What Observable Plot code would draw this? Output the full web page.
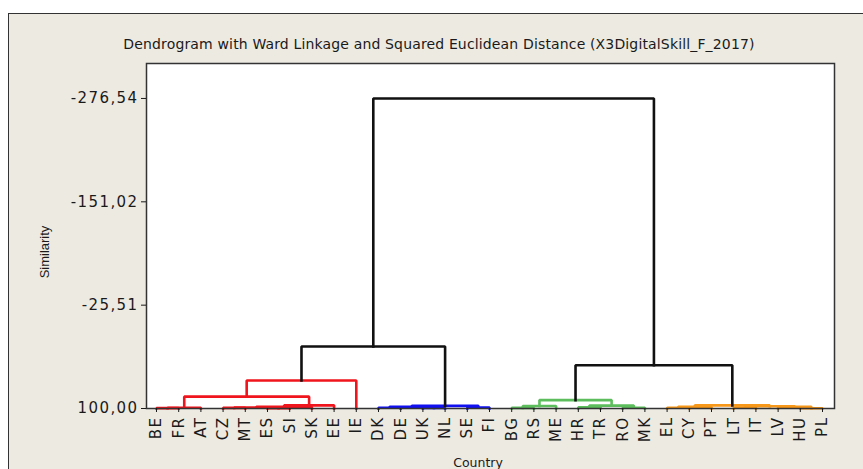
<!DOCTYPE html>
<html><head><meta charset="utf-8">
<script src="https://cdn.jsdelivr.net/npm/d3@7"></script>
<script src="https://cdn.jsdelivr.net/npm/@observablehq/plot@0.6"></script>
<style>
html,body{margin:0;padding:0;background:#fff;width:863px;height:469px;overflow:hidden;}
#panel{position:absolute;left:8px;top:13px;width:900px;height:500px;background:#EDEAE2;border:1.5px solid #333;box-sizing:border-box;}
#chart{position:absolute;left:0;top:0;}
.t{position:absolute;font-family:"DejaVu Sans",sans-serif;color:#1a1a1a;white-space:nowrap;}
#chart g[aria-label="x-axis tick label"] text{letter-spacing:1.5px;}
#chart g[aria-label="y-axis tick label"] text{letter-spacing:1.4px;}
</style></head><body>
<div id="panel"></div>
<div id="chart"></div>
<div class="t" id="title" style="left:0;width:878px;top:36px;text-align:center;font-size:14px;letter-spacing:0.15px;">Dendrogram with Ward Linkage and Squared Euclidean Distance (X3DigitalSkill_F_2017)</div>
<div class="t" id="ylab" style="left:44px;top:252px;transform:translate(-50%,-50%) rotate(-90deg);font-family:'Liberation Sans Narrow','Liberation Sans',sans-serif;font-size:13px;">Similarity</div>
<div class="t" id="xlab" style="left:478px;top:455px;transform:translateX(-50%);font-size:12.5px;">Country</div>
<script>
// Leaves in dendrogram order
const countries = ["BE","FR","AT","CZ","MT","ES","SI","SK","EE","IE",
  "DK","DE","UK","NL","SE","FI",
  "BG","RS","ME","HR","TR","RO","MK",
  "EL","CY","PT","LT","IT","LV","HU","PL"];
// Final cluster of each leaf
const leafGroup = ["C1","C1","C1","C1","C1","C1","C1","C1","C1","C1",
  "C2","C2","C2","C2","C2","C2",
  "C3","C3","C3","C3","C3","C3","C3",
  "C4","C4","C4","C4","C4","C4","C4","C4"];
const groupNames = ["C1","C2","C3","C4","Between"];
// Linkage: [left node, right node, similarity]; nodes >= 31 are earlier merges
const linkage = [
  [0, 1, 99.6],   // 31
  [31, 2, 99.0],  // 32
  [3, 4, 99.3],   // 33
  [5, 6, 99.5],   // 34
  [33, 34, 98.8], // 35
  [35, 7, 98.0],  // 36
  [36, 8, 96.2],  // 37
  [32, 37, 85.6], // 38
  [38, 9, 66.0],  // 39
  [10, 11, 99.0], // 40
  [12, 13, 99.4], // 41
  [14, 15, 98.8], // 42
  [40, 41, 98.0], // 43
  [43, 42, 96.8], // 44
  [16, 17, 99.3], // 45
  [45, 18, 97.0], // 46
  [19, 20, 98.5], // 47
  [21, 22, 99.0], // 48
  [47, 48, 96.5], // 49
  [46, 49, 89.8], // 50
  [23, 24, 99.0], // 51
  [51, 25, 97.8], // 52
  [26, 27, 98.9], // 53
  [29, 30, 99.7], // 54
  [28, 54, 98.0], // 55
  [53, 55, 97.2], // 56
  [52, 56, 96.2], // 57
  [39, 44, 24.7], // 58
  [50, 57, 47.5], // 59
  [58, 59, -276.54] // 60
];
const yTicks = [100, -25.51, -151.02, -276.54];
const yTop = -319;

const n = countries.length;
const nodeX = countries.map((_, i) => i);
const nodeY = countries.map(() => 100);
const nodeG = leafGroup.slice();
const lineData = [];
linkage.forEach(([a, b, s], k) => {
  const id = n + k;
  const g = nodeG[a] === nodeG[b] ? nodeG[a] : "Between";
  nodeX[id] = (nodeX[a] + nodeX[b]) / 2;
  nodeY[id] = s;
  nodeG[id] = g;
  [[nodeX[a], nodeY[a]], [nodeX[a], s], [nodeX[b], s], [nodeX[b], nodeY[b]]]
    .forEach(([x, y]) => lineData.push({id, g, x, y}));
});

const fmt = d => d.toFixed(2).replace(".", ",");

const chart = Plot.plot({
  width: 863,
  height: 469,
  marginLeft: 146,
  marginRight: 29,
  marginTop: 63,
  marginBottom: 61,
  style: {background: "transparent", fontFamily: "DejaVu Sans, sans-serif", color: "#1a1a1a"},
  x: {type: "linear", domain: [-0.45, n - 1 + 0.54]},
  y: {type: "linear", domain: [100, yTop]},
  color: {domain: groupNames, range: ["#F0141C", "#1010F0", "#5CBD5C", "#F7981A", "#111111"]},
  marks: [
    Plot.frame({fill: "white", stroke: null}),
    Plot.line(lineData, {x: "x", y: "y", z: "id", stroke: "g", strokeWidth: 2.6, strokeLinejoin: "miter", strokeLinecap: "square"}),
    Plot.frame({stroke: "#333", strokeWidth: 1.5}),
    Plot.axisY({ticks: yTicks, tickFormat: fmt, tickSize: 5, tickPadding: 3, fontSize: 15, label: null}),
    Plot.axisX({ticks: d3.range(n), tickFormat: i => countries[i], tickRotate: -90, tickSize: 4, tickPadding: 4, fontSize: 15, label: null})
  ]
});
document.getElementById("chart").appendChild(chart);
</script>
</body></html>
